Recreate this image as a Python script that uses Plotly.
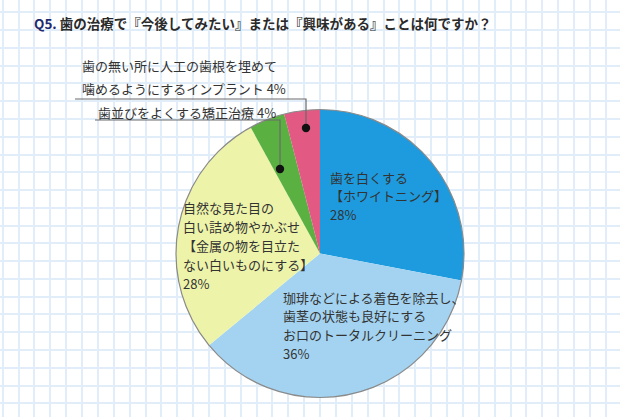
import plotly.graph_objects as go

# data
categories = [
    "歯を白くする【ホワイトニング】",
    "珈琲などによる着色を除去し、歯茎の状態も良好にするお口のトータルクリーニング",
    "自然な見た目の白い詰め物やかぶせ【金属の物を目立たない白いものにする】",
    "歯並びをよくする矯正治療",
    "歯の無い所に人工の歯根を埋めて噛めるようにするインプラント",
]
values = [28, 36, 28, 4, 4]
label_lines = [
    ["歯を白くする", "【ホワイトニング】"],
    ["珈琲などによる着色を除去し、", "歯茎の状態も良好にする", "お口のトータルクリーニング"],
    ["自然な見た目の", "白い詰め物やかぶせ", "【金属の物を目立た", "ない白いものにする】"],
    ["歯並びをよくする矯正治療"],
    ["歯の無い所に人工の歯根を埋めて", "噛めるようにするインプラント"],
]
colors = ["#1e9bde", "#a3d3f1", "#eef3aa", "#5bb042", "#e25a83"]

W, H = 620, 417
FONT = "Noto Sans CJK JP"
TXT = "#333333"

# pie geometry in pixels
cx, cy, r = 320, 253.5, 144

fig = go.Figure()
# empty trace so the cartesian grid is drawn
fig.add_trace(go.Scatter(x=[], y=[], showlegend=False, hoverinfo="skip"))
fig.add_trace(go.Pie(
    labels=categories, values=values, sort=False, direction="clockwise", rotation=0,
    marker=dict(colors=colors, line=dict(width=0)),
    textinfo="none", hoverinfo="label+percent", showlegend=False,
    domain=dict(x=[(cx - r) / W, (cx + r) / W], y=[(H - cy - r) / H, (H - cy + r) / H]),
))

anns = []

def add_lines(lines, x, y0, step, size=13):
    for i, t in enumerate(lines):
        anns.append(dict(x=x, y=y0 + i * step, text=t, showarrow=False, xanchor="left",
                         yanchor="middle", font=dict(family=FONT, size=size, color=TXT)))

# inside labels
add_lines(label_lines[0] + [f"{values[0]}%"], 328, 177, 18.5)
add_lines(label_lines[1] + [f"{values[1]}%"], 281, 297, 18.7)
add_lines(label_lines[2] + [f"{values[2]}%"], 181, 207, 19)
# outside labels
add_lines([label_lines[4][0], label_lines[4][1] + f" {values[4]}%"], 80, 65, 23)
add_lines([label_lines[3][0] + f" {values[3]}%"], 96, 112, 23)

# title
anns.append(dict(x=32, y=23, xanchor="left", yanchor="middle", showarrow=False,
                 text="<b><span style='color:#1f2b6e'>Q5.</span> 歯の治療で『今後してみたい』または『興味がある』ことは何ですか？</b>",
                 font=dict(family=FONT, size=13.5, color="#2a2a2a")))

shapes = [
    dict(type="circle", x0=cx - r, x1=cx + r, y0=cy - r, y1=cy + r,
         line=dict(color="#8a8a8a", width=1.2), layer="above"),
    # leader lines
    dict(type="path", path="M 75 99 L 306 99 L 306 128", line=dict(color="#6a6a6a", width=1.2), layer="above"),
    dict(type="path", path="M 95 120 L 280 120 L 280 169", line=dict(color="#6a6a6a", width=1.2), layer="above"),
]
for dx, dy in [(306, 128), (280, 169)]:
    shapes.append(dict(type="circle", x0=dx - 4.2, x1=dx + 4.2, y0=dy - 4.2, y1=dy + 4.2,
                       fillcolor="#111111", line=dict(width=0), layer="above"))

fig.update_layout(
    width=W, height=H, margin=dict(l=0, r=0, t=0, b=0),
    paper_bgcolor="white", plot_bgcolor="white",
    xaxis=dict(range=[0, W], tick0=2.7, dtick=15.87, showgrid=True, gridcolor="#e1eef9",
               gridwidth=1.5, zeroline=False, showticklabels=False, ticks="", fixedrange=True),
    yaxis=dict(range=[H, 0], tick0=12.4, dtick=17.77, showgrid=True, gridcolor="#e1eef9",
               gridwidth=1.5, zeroline=False, showticklabels=False, ticks="", fixedrange=True),
    annotations=anns, shapes=shapes,
)

fig.write_html("out.html", config={"displayModeBar": False},
               post_script="document.body.style.margin='0';")
